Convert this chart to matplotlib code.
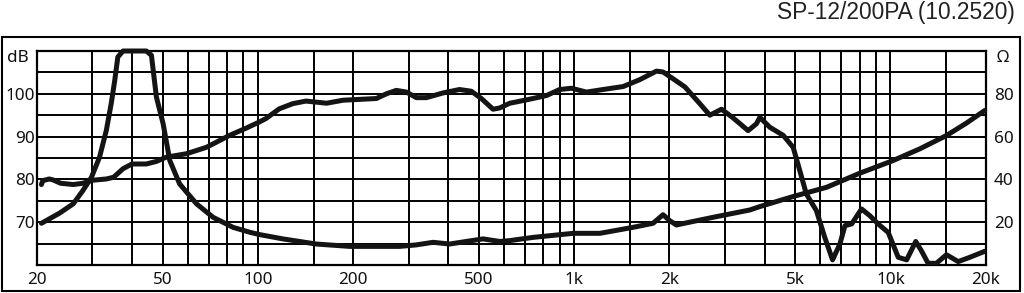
import matplotlib
matplotlib.use("Agg")
import matplotlib.pyplot as plt
from matplotlib.patches import Rectangle

# ---- data ----
spl_freq = [20.7, 20.9, 21.9, 22.5, 23.8, 26.1, 28.0, 30, 33.2, 35.0, 37.5, 40, 44.4, 47.8, 51.4,
            59.5, 68.8, 81.5, 92, 101, 106, 117, 129, 142, 165, 186, 210, 237, 255, 274, 295, 317,
            341, 385, 434, 473, 509, 554, 582, 626, 657, 741, 818, 900, 980, 1094, 1234, 1429, 1612,
            1820, 1910, 2056, 2240, 2496, 2685, 2924, 3177, 3548, 3770, 3864, 4152, 4580, 4924, 5166,
            5420, 5833, 6195, 6560, 6920, 7180, 7540, 8100, 8610, 9140, 9840, 10580, 11250, 12020,
            12530, 13150, 13970, 15030, 16370, 17820, 19860]
spl_db = [78.8, 79.7, 80.1, 79.9, 79.1, 78.8, 79.1, 79.8, 80.1, 80.5, 82.5, 83.6, 83.6, 84.2, 85.2,
          86.0, 87.5, 90.3, 92.0, 93.4, 94.2, 96.5, 97.7, 98.3, 97.8, 98.5, 98.7, 98.9, 100.0, 100.8,
          100.4, 99.1, 99.1, 100.2, 101.0, 100.6, 98.9, 96.4, 96.7, 97.8, 98.1, 98.9, 99.6, 101.0,
          101.3, 100.4, 101.0, 101.7, 103.3, 105.3, 105.1, 103.5, 101.6, 97.7, 95.0, 96.4, 94.4, 91.4,
          93.0, 94.5, 92.2, 90.3, 87.5, 82.1, 76.6, 72.7, 66.5, 61.2, 64.9, 69.2, 69.6, 73.1, 71.5,
          69.6, 67.6, 61.8, 61.2, 65.5, 63.3, 60.4, 60.4, 62.4, 60.8, 61.8, 63.2]

imp_freq = [20.7, 23.6, 26.1, 28.0, 29.8, 31.6, 33.2, 34.4, 35.3, 36.1, 37.5, 44.4, 46.1, 47.8, 50.2,
            52.7, 56.6, 64, 72.2, 83.5, 94.3, 101.4, 120, 153, 195, 281, 317, 358, 404, 456, 515, 582,
            626, 741, 993, 1206, 1535, 1776, 1910, 2006, 2105, 2317, 2816, 3591, 3864, 4924, 6278,
            8000, 10190, 12390, 15030, 17380, 19860]
imp_ohm = [19.5, 24.2, 28.6, 34.8, 41.0, 50.4, 62.9, 75.4, 86.3, 97.2, 100, 100, 98, 78.5, 66,
           48.8, 37.9, 28.6, 22.3, 17.6, 15.3, 14.2, 12.2, 9.8, 8.7, 8.7, 9.4, 10.6, 9.8, 11.0, 12.2,
           11.0, 11.4, 12.9, 14.8, 14.8, 17.6, 19.5, 23.5, 20.7, 18.7, 20.0, 22.6, 25.7, 27.3, 32.0,
           36.3, 42.9, 48.8, 54.3, 60.5, 66.3, 72.2]

grid_freqs = [20, 30, 40, 50, 60, 70, 80, 90, 100, 150, 200, 300, 400, 500, 600, 700, 800, 900,
              1000, 1500, 2000, 3000, 4000, 5000, 6000, 7000, 8000, 9000, 10000, 15000, 20000]
freq_labels = {20: "20", 50: "50", 100: "100", 200: "200", 500: "500", 1000: "1k",
               2000: "2k", 5000: "5k", 10000: "10k", 20000: "20k"}
db_ticks = [60, 65, 70, 75, 80, 85, 90, 95, 100, 105, 110]
db_labels = {70: "70", 80: "80", 90: "90", 100: "100"}
ohm_ticks = [0, 10, 20, 30, 40, 50, 60, 70, 80, 90, 100]
ohm_labels = {20: "20", 40: "40", 60: "60", 80: "80"}
title = "SP-12/200PA (10.2520)"

LABEL_FONT = ["Noto Sans", "DejaVu Sans"]
LABEL_SIZE = 12.3

# ---- figure ----
W, H = 1024, 293
fig = plt.figure(figsize=(W / 100, H / 100), dpi=100)
fig.patch.set_facecolor("white")

x0, x1, y0, y1 = 36.7, 985.7, 51.0, 265.0
ax = fig.add_axes([x0 / W, 1 - y1 / H, (x1 - x0) / W, (y1 - y0) / H])
ax.set_xscale("log")
ax.set_xlim(20, 20000)
ax.set_ylim(60, 110)
ax.minorticks_off()
ax.set_xticks(grid_freqs)
ax.set_xticklabels([freq_labels.get(f, "") for f in grid_freqs])
ax.set_yticks(db_ticks)
ax.set_yticklabels([db_labels.get(v, "") for v in db_ticks])
ax.tick_params(length=0, labelsize=LABEL_SIZE, colors="#111111")
ax.tick_params(axis="y", pad=1.5)
ax.tick_params(axis="x", pad=5)
for lab in ax.get_xticklabels() + ax.get_yticklabels():
    lab.set_family(LABEL_FONT)
ax.grid(True, color="black", linewidth=1.4)
for s in ax.spines.values():
    s.set_linewidth(1.6)
    s.set_color("black")

ax2 = ax.twinx()
ax2.set_ylim(0, 100)
ax2.set_yticks(ohm_ticks)
ax2.set_yticklabels([ohm_labels.get(v, "") for v in ohm_ticks])
ax2.tick_params(length=0, labelsize=LABEL_SIZE, colors="#111111", pad=6)
for lab in ax2.get_yticklabels():
    lab.set_family(LABEL_FONT)
for s in ax2.spines.values():
    s.set_visible(False)

ax.plot(spl_freq, spl_db, color="#141414", linewidth=3.6,
        solid_joinstyle="round", solid_capstyle="round", zorder=5)
ax2.plot(imp_freq, imp_ohm, color="#141414", linewidth=3.6,
         solid_joinstyle="round", solid_capstyle="round", zorder=5, clip_on=False)

fig.text(18 / W, 1 - 58 / H, "dB", ha="center", va="center", fontsize=LABEL_SIZE,
         family=LABEL_FONT, color="#111111")
fig.text(1003 / W, 1 - 58 / H, "Ω", ha="center", va="center", fontsize=LABEL_SIZE,
         family=LABEL_FONT, color="#111111")

fig.text(1015 / W, 1 - 12.5 / H, title, ha="right", va="center", fontsize=16.4,
         family="Liberation Sans", color="#222222")

fig.patches.append(Rectangle((1.5 / W, 1 - 290.5 / H), (1020 - 1.5) / W, (290.5 - 36.7) / H,
                             transform=fig.transFigure, fill=False, edgecolor="black",
                             linewidth=1.5))

fig.savefig("out.png", dpi=100)
